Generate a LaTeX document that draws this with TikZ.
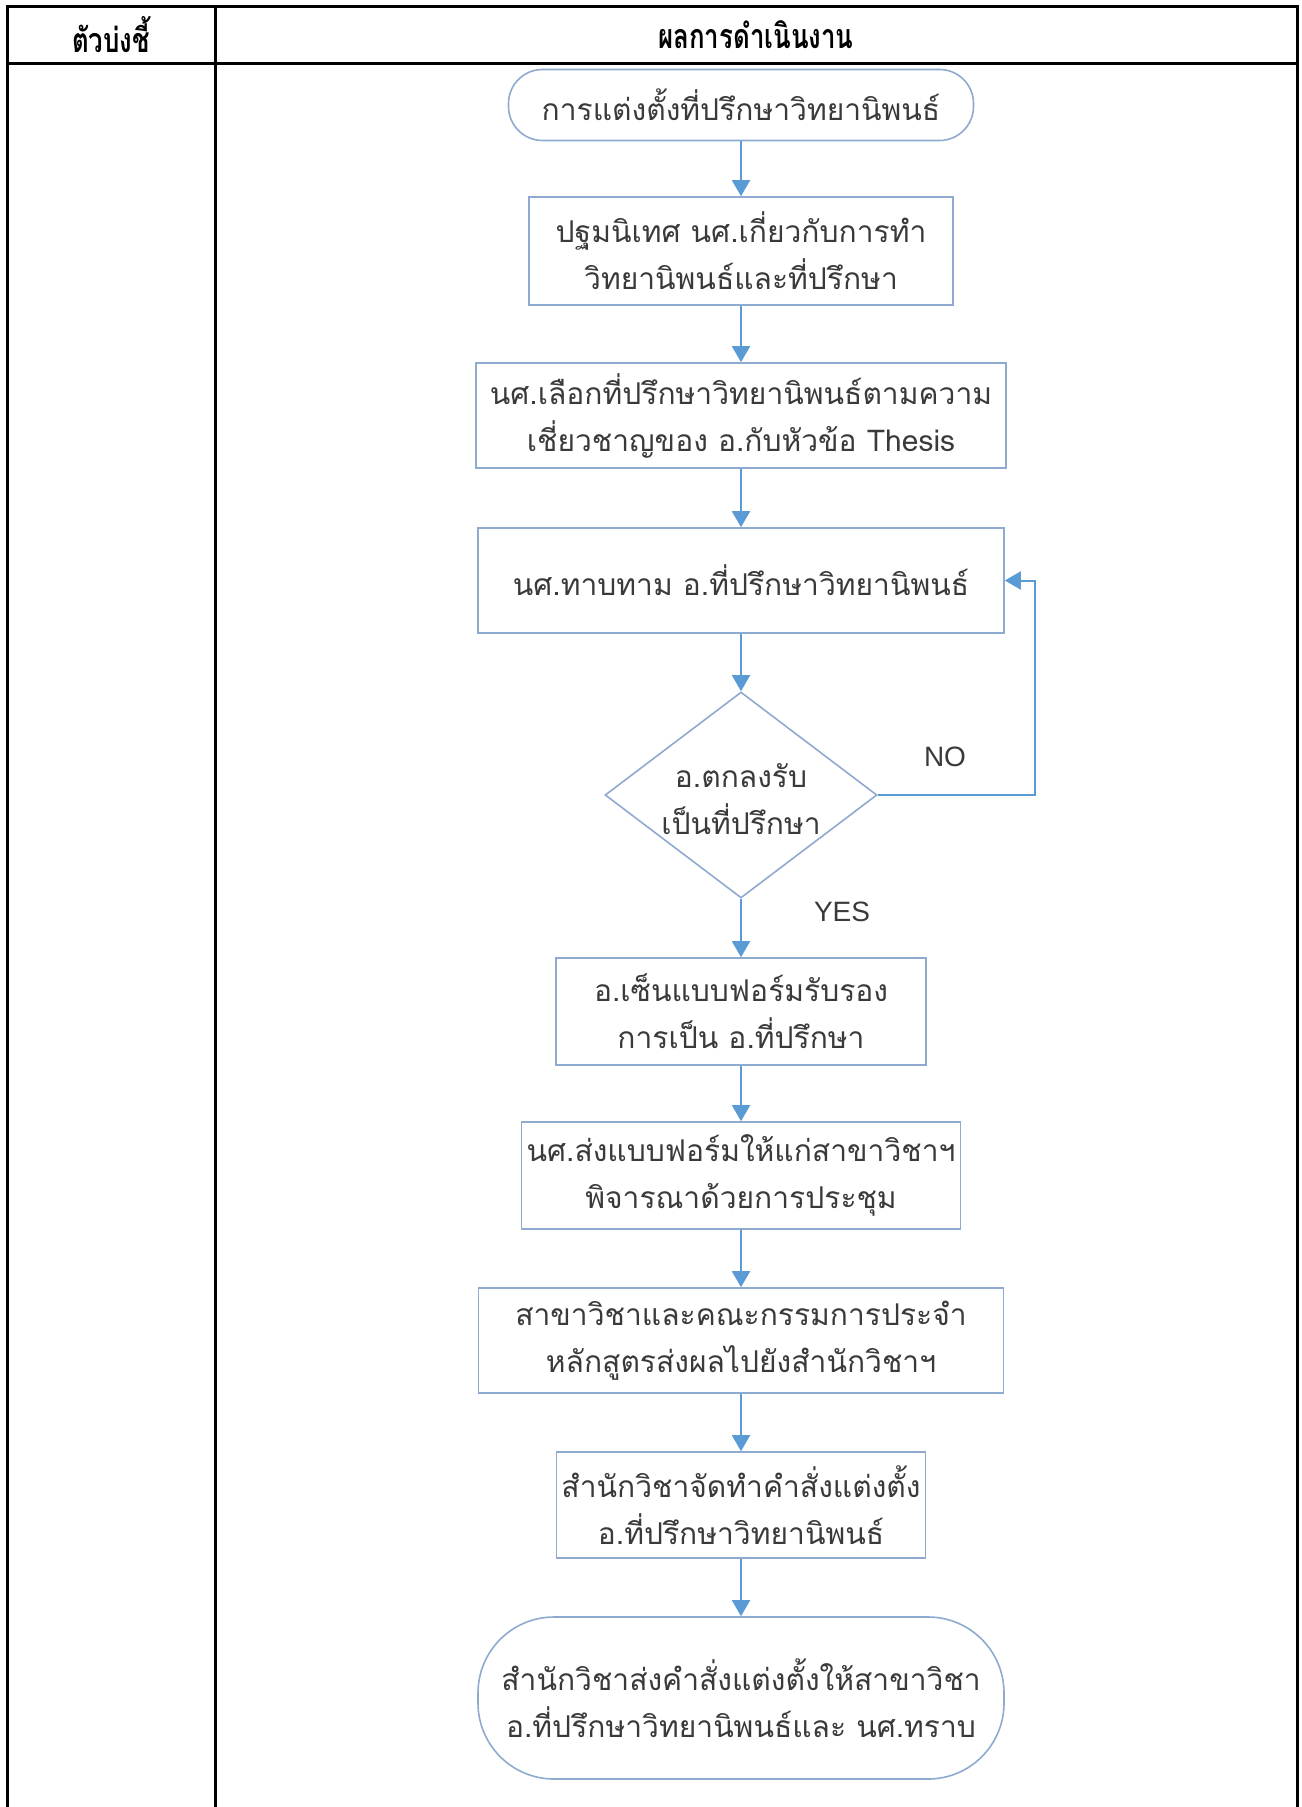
\documentclass[tikz,border=0pt]{standalone}
\usepackage{fontspec}
\usetikzlibrary{arrows.meta,shapes.geometric}
\setmainfont[Script=Thai]{Loma}
\newfontfamily\headthai[Script=Thai,FakeStretch=0.76]{Loma}
\newfontfamily\latinsans{Liberation Sans}
\definecolor{boxc}{HTML}{8EAACF}
\definecolor{arrc}{HTML}{5B9BD5}
\definecolor{txtc}{HTML}{3A3A3A}
\newcommand\flowfont{\fontsize{15pt}{23.5pt}\selectfont}
\newcommand\headfont{\headthai\fontsize{17pt}{20pt}\selectfont\bfseries}
\begin{document}
\begin{tikzpicture}[x=0.5pt,y=-0.5pt,
  tbl/.style={line width=1.5pt,black},
  proc/.style={draw=boxc,line width=0.8pt,fill=white,align=center,inner sep=0pt,text=txtc,font=\flowfont},
  term/.style={proc,rounded corners=17pt},
  termbig/.style={proc,rounded corners=38pt},
  decis/.style={proc,diamond,aspect=1.32},
  flow/.style={draw=arrc,line width=1pt,-{Triangle[width=9pt,length=8pt]}},
  lbl/.style={font=\latinsans\fontsize{14pt}{16pt}\selectfont,text=txtc,inner sep=0pt},
  head/.style={font=\headfont,text=black,inner sep=0pt}]
\useasboundingbox (0,0) rectangle (1301,1807);
% table
\draw[tbl] (7,1807) -- (7,7) -- (1297,7) -- (1297,1807);
\draw[tbl] (7,64) -- (1297,64);
\draw[tbl] (215,7) -- (215,1807);
\node[head] (h1) at (111,35) {ตัวบ่งชี้};
\node[head] (h2) at (756,35) {ผลการดำเนินงาน};
% flowchart
\node[term,minimum width=232.5pt,minimum height=35.5pt] (n1) at (741,105) {การแต่งตั้งที่ปรึกษาวิทยานิพนธ์};
\node[proc,minimum width=212pt,minimum height=54pt] (n2) at (741,251) {ปฐมนิเทศ นศ.เกี่ยวกับการทำ\\วิทยานิพนธ์และที่ปรึกษา};
\node[proc,minimum width=265pt,minimum height=52.5pt] (n3) at (741,415.5) {นศ.เลือกที่ปรึกษาวิทยานิพนธ์ตามความ\\เชี่ยวชาญของ อ.กับหัวข้อ Thesis};
\node[proc,minimum width=263pt,minimum height=52.5pt] (n4) at (741,580.5) {นศ.ทาบทาม อ.ที่ปรึกษาวิทยานิพนธ์};
\node[decis,minimum width=136pt,minimum height=103pt] (n5) at (741,795) {};
\node[proc,draw=none,fill=none] (n5t) at (741,799) {อ.ตกลงรับ\\เป็นที่ปรึกษา};
\node[proc,minimum width=185pt,minimum height=53.5pt] (n6) at (741,1011.5) {อ.เซ็นแบบฟอร์มรับรอง\\การเป็น อ.ที่ปรึกษา};
\node[proc,minimum width=219.5pt,minimum height=53.5pt] (n7) at (741,1175.5) {นศ.ส่งแบบฟอร์มให้แก่สาขาวิชาฯ\\พิจารณาด้วยการประชุม};
\node[proc,minimum width=262.5pt,minimum height=52.5pt] (n8) at (741,1340.5) {สาขาวิชาและคณะกรรมการประจำ\\หลักสูตรส่งผลไปยังสำนักวิชาฯ};
\node[proc,minimum width=184.5pt,minimum height=53pt] (n9) at (741,1505) {สำนักวิชาจัดทำคำสั่งแต่งตั้ง\\อ.ที่ปรึกษาวิทยานิพนธ์};
\node[termbig,minimum width=263pt,minimum height=81pt] (n10) at (741,1698) {สำนักวิชาส่งคำสั่งแต่งตั้งให้สาขาวิชา\\อ.ที่ปรึกษาวิทยานิพนธ์และ นศ.ทราบ};
\draw[flow] (n1) -- (n2);
\draw[flow] (n2) -- (n3);
\draw[flow] (n3) -- (n4);
\draw[flow] (n4) -- (n5);
\draw[flow] (n5) -- (n6);
\draw[flow] (n6) -- (n7);
\draw[flow] (n7) -- (n8);
\draw[flow] (n8) -- (n9);
\draw[flow] (n9) -- (n10);
\coordinate (lp1) at (1035,795);
\coordinate (lp2) at (1035,580.5);
\draw[flow] (n5.east) -- (lp1) -- (lp2) -- (n4.east);
\node[lbl] (no) at (945,757) {NO};
\node[lbl] (yes) at (842,912) {YES};
\end{tikzpicture}
\end{document}
